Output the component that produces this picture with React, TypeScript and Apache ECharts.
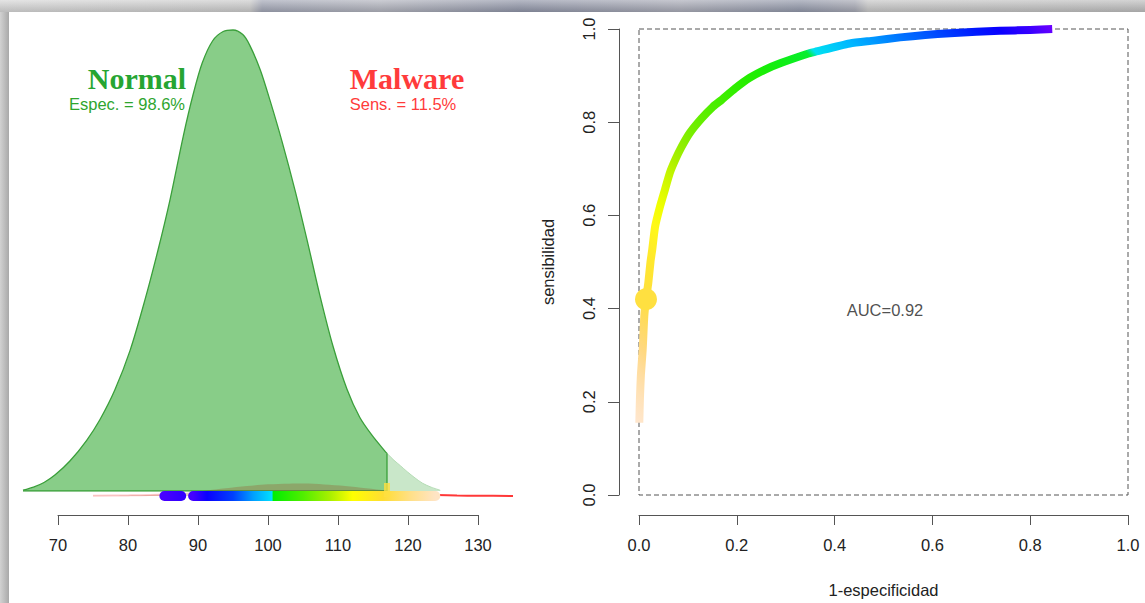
import React, { useEffect, useRef } from "react";
import * as echarts from "echarts";

// ---------- Left panel: score densities ----------
const normalX = [65.0, 66.5, 68.0, 69.6, 71.7, 74.1, 76.0, 78.1, 80.3, 82.4, 84.3, 86.0, 87.9, 89.3, 90.6, 92.1, 93.6, 95.0, 96.4, 97.4, 98.9, 100.3, 102.0, 103.9, 105.7, 107.4, 109.3, 111.3, 113.1, 114.9, 116.7, 117.0];
const normalY = [0.0001, 0.0005, 0.0011, 0.0021, 0.0039, 0.0066, 0.0093, 0.0131, 0.0183, 0.0248, 0.0314, 0.0379, 0.0462, 0.0516, 0.0557, 0.0586, 0.0598, 0.0600, 0.0594, 0.0580, 0.0548, 0.0508, 0.0455, 0.0390, 0.0322, 0.0255, 0.0188, 0.0132, 0.0096, 0.0072, 0.0052, 0.0049];
const normalTailX = [117.0, 118.0, 118.9, 119.9, 121.0, 122.1, 123.3, 124.6];
const normalTailY = [0.0049, 0.0040, 0.0033, 0.0025, 0.0017, 0.0010, 0.0005, 0.0001];

const malwareX = [75, 80, 85, 88, 91, 94, 97, 100, 103, 105, 108, 111, 114, 117, 120, 124, 127, 130, 135];
const malwareY = [0.00002, 0.00008, 0.0002, 0.0004, 0.0007, 0.0010, 0.0013, 0.00152, 0.0016, 0.00162, 0.0015, 0.0013, 0.0010, 0.0007, 0.0004, 0.00012, 0.00006, 0.00003, 0.00001];

const threshold = 117;

// threshold colour bar
const barLowX = [85.2, 87.6];
const barLowColors = ["#4800FF", "#3200FF"];
const barX = [89.3, 91.3, 95.0, 97.9, 100.6, 100.7, 105.0, 108.9, 112.1, 116.4, 120.5, 123.9];
const barColors = ["#4400FF", "#0A00FF", "#0040FF", "#00A0FF", "#00E0FF", "#00EE00", "#50EE00", "#AAF000", "#FFFF00", "#FFDD33", "#FFE08A", "#FFE4C4"];

const leftTicks = [70, 80, 90, 100, 110, 120, 130];

// ---------- Right panel: ROC ----------
const rocFpr = [0.0006, 0.002, 0.004, 0.0075, 0.0108, 0.0143, 0.019, 0.0235, 0.027, 0.033, 0.043, 0.053, 0.063, 0.074, 0.087, 0.104, 0.128, 0.151, 0.169, 0.196, 0.226, 0.258, 0.29, 0.345, 0.36, 0.431, 0.48, 0.534, 0.585, 0.636, 0.69, 0.738, 0.80, 0.845];
const rocTpr = [0.155, 0.21, 0.26, 0.311, 0.383, 0.42, 0.455, 0.50, 0.526, 0.576, 0.619, 0.655, 0.691, 0.719, 0.747, 0.777, 0.808, 0.833, 0.848, 0.872, 0.895, 0.913, 0.927, 0.947, 0.951, 0.969, 0.975, 0.982, 0.987, 0.991, 0.994, 0.996, 0.998, 1.0];
const rocColors = ["#FFE6CC", "#FFE2B8", "#FFDDA0", "#FFD880", "#FFDB58", "#FFE040", "#FFE238", "#FFE72E", "#FFEC28", "#FFF818", "#F0FF00", "#DAFA00", "#C2F500", "#AAF000", "#92EE00", "#7AEE00", "#62EE00", "#4EEE00", "#42EE00", "#30EE00", "#24EE00", "#18EE08", "#10EE14", "#08EE30", "#00E0F0", "#00B8FF", "#0098FF", "#0074FF", "#0058FF", "#0038FF", "#0018FF", "#0A00FF", "#3A00FF", "#6A00FF"];
const cutPoint = [0.0143, 0.42];
const rocTicks = [0, 0.2, 0.4, 0.6, 0.8, 1.0];
const aucPos = [0.503, 0.397];

const normalTitle = "Normal";
const malwareTitle = "Malware";
const specText = "Espec. = 98.6%";
const sensText = "Sens. = 11.5%";
const aucText = "AUC=0.92";
const xName = "1-especificidad";
const yName = "sensibilidad";

const FONT = "Liberation Sans";

function gradientAlong(points: number[][], colors: string[]) {
  const p0 = points[0];
  const p1 = points[points.length - 1];
  const dx = p1[0] - p0[0];
  const dy = p1[1] - p0[1];
  const L2 = dx * dx + dy * dy || 1;
  let last = 0;
  const stops = points.map((p, i) => {
    let t = ((p[0] - p0[0]) * dx + (p[1] - p0[1]) * dy) / L2;
    t = Math.min(1, Math.max(last, t));
    last = t;
    return { offset: t, color: colors[i] };
  });
  return new echarts.graphic.LinearGradient(p0[0], p0[1], p1[0], p1[1], stops, true);
}

const zip = (xs: number[], ys: number[]) => xs.map((x, i) => [x, ys[i]]);

export default function App() {
  const ref = useRef<HTMLDivElement>(null);

  useEffect(() => {
    if (!ref.current) return;
    const chart = echarts.init(ref.current, null, { renderer: "svg" });

    const hiddenX = (gridIndex: number) => ({
      gridIndex, type: "value", min: 64, max: 136, show: false,
    });

    const labelStyle = { fontSize: 16.5, color: "#222", fontFamily: FONT };

    const option: any = {
      animation: false,
      backgroundColor: "transparent",
      textStyle: { fontFamily: FONT },
      grid: [
        { left: 16, top: 20, width: 504, height: 471 },
        { left: 16, top: 20, width: 504, height: 476 },
        { left: 58, top: 480, width: 420, height: 35 },
        {
          left: 639, top: 29, width: 489, height: 466, show: true,
          backgroundColor: "transparent", borderColor: "#555", borderWidth: 1, borderType: [5, 3],
        },
      ],
      xAxis: [
        hiddenX(0),
        hiddenX(1),
        {
          gridIndex: 2, type: "value", min: leftTicks[0], max: leftTicks[leftTicks.length - 1], interval: 10,
          axisLine: { show: true, lineStyle: { color: "#555", width: 1 } },
          axisTick: { show: true, length: 10, lineStyle: { color: "#555" } },
          axisLabel: { show: true, margin: 21, showMinLabel: true, showMaxLabel: true, ...labelStyle },
          splitLine: { show: false },
        },
        {
          gridIndex: 3, type: "value", min: rocTicks[0], max: rocTicks[rocTicks.length - 1], interval: 0.2,
          offset: 20,
          axisLine: { show: true, onZero: false, lineStyle: { color: "#555", width: 1 } },
          axisTick: { show: true, length: 10, lineStyle: { color: "#555" } },
          axisLabel: { show: true, margin: 21, showMinLabel: true, showMaxLabel: true, formatter: (v: number) => v.toFixed(1), ...labelStyle },
          splitLine: { show: false },
          name: xName, nameLocation: "middle", nameGap: 66,
          nameTextStyle: { ...labelStyle },
        },
      ],
      yAxis: [
        { gridIndex: 0, type: "value", min: 0, max: 0.0613, show: false },
        { gridIndex: 1, type: "value", min: 0, max: 0.062, show: false },
        { gridIndex: 2, type: "value", min: 0, max: 1, show: false },
        {
          gridIndex: 3, type: "value", min: rocTicks[0], max: rocTicks[rocTicks.length - 1], interval: 0.2,
          offset: 20,
          axisLine: { show: true, onZero: false, lineStyle: { color: "#555", width: 1 } },
          axisTick: { show: true, length: 11, lineStyle: { color: "#555" } },
          axisLabel: { show: true, rotate: 90, margin: 22, showMinLabel: true, showMaxLabel: true, formatter: (v: number) => v.toFixed(1), ...labelStyle },
          splitLine: { show: false },
          name: yName, nameLocation: "middle", nameGap: 63,
          nameTextStyle: { ...labelStyle },
        },
      ],
      series: [
        {
          id: "normalDark", type: "line", xAxisIndex: 0, yAxisIndex: 0, z: 2,
          data: zip(normalX, normalY), symbol: "none", smooth: 0.3, silent: true,
          lineStyle: { color: "#3A9F3A", width: 1.3 },
          areaStyle: { color: "#88CD88", opacity: 1 },
        },
        {
          id: "normalLight", type: "line", xAxisIndex: 0, yAxisIndex: 0, z: 2,
          data: zip(normalTailX, normalTailY), symbol: "none", smooth: 0.3, silent: true,
          lineStyle: { color: "#B5DCB5", width: 1 },
          areaStyle: { color: "#C9E7C9", opacity: 1 },
        },
        {
          id: "normalCut", type: "line", xAxisIndex: 0, yAxisIndex: 0, z: 2,
          data: [[threshold, 0], [threshold, normalY[normalY.length - 1]]], symbol: "none", silent: true,
          lineStyle: { color: "#3A9F3A", width: 1.3 },
        },
        {
          id: "normalBase", type: "line", xAxisIndex: 0, yAxisIndex: 0, z: 2,
          data: [[normalX[0], 0], [threshold, 0]], symbol: "none", silent: true,
          lineStyle: { color: "#3A9F3A", width: 1.3 },
        },
        {
          id: "malwareArea", type: "line", xAxisIndex: 1, yAxisIndex: 1, z: 3,
          data: zip(malwareX, malwareY), symbol: "none", smooth: 0.3, silent: true,
          lineStyle: { width: 0, opacity: 0 },
          areaStyle: { color: "rgba(150,70,30,0.4)" },
        },
        {
          id: "malwareLow", type: "line", xAxisIndex: 1, yAxisIndex: 1, z: 3,
          data: zip(malwareX, malwareY).filter((p) => p[0] <= 88), symbol: "none", smooth: 0.3, silent: true,
          lineStyle: { color: "rgba(255,90,90,0.3)", width: 2 },
        },
        {
          id: "malwareHigh", type: "line", xAxisIndex: 1, yAxisIndex: 1, z: 3,
          data: zip(malwareX, malwareY).filter((p) => p[0] >= 124), symbol: "none", smooth: 0.3, silent: true,
          lineStyle: { color: "#FF3838", width: 2 },
        },
        {
          id: "barLow", type: "line", xAxisIndex: 1, yAxisIndex: 1, z: 4,
          data: barLowX.map((x) => [x, 0]), symbol: "none", silent: true,
          lineStyle: { color: barLowColors[0], width: 10, cap: "round" },
        },
        {
          id: "barHigh", type: "line", xAxisIndex: 1, yAxisIndex: 1, z: 4,
          data: barX.map((x) => [x, 0]), symbol: "none", silent: true,
          lineStyle: { color: barColors[0], width: 10, cap: "round" },
        },
        {
          id: "cutMark", type: "scatter", xAxisIndex: 1, yAxisIndex: 1, z: 5,
          data: [[threshold, 0]], symbol: "rect", symbolSize: [6, 14], symbolOffset: [0, -6], silent: true,
          itemStyle: { color: "#FFE040" },
        },
        {
          id: "roc", type: "line", xAxisIndex: 3, yAxisIndex: 3, z: 4,
          data: zip(rocFpr, rocTpr), symbol: "none", smooth: 0.2, clip: false, silent: true,
          lineStyle: { color: rocColors[0], width: 8, join: "round" },
        },
        {
          id: "cutPoint", type: "scatter", xAxisIndex: 3, yAxisIndex: 3, z: 5,
          data: [cutPoint], symbolSize: 22, clip: false, silent: true,
          itemStyle: { color: "#FFE040", opacity: 1 },
        },
        {
          id: "auc", type: "scatter", xAxisIndex: 3, yAxisIndex: 3, z: 5,
          data: [aucPos], symbolSize: 0, silent: true,
          label: { show: true, position: "inside", formatter: aucText, ...labelStyle },
        },
      ],
      graphic: [
        {
          type: "text", x: 137, y: 78, silent: true,
          style: { text: normalTitle, fill: "#26A532", font: "bold 30px 'Liberation Serif'", align: "center", verticalAlign: "middle", textAlign: "center", textVerticalAlign: "middle" },
        },
        {
          type: "text", x: 407, y: 78, silent: true,
          style: { text: malwareTitle, fill: "#FF3B3B", font: "bold 30px 'Liberation Serif'", align: "center", verticalAlign: "middle", textAlign: "center", textVerticalAlign: "middle" },
        },
        {
          type: "text", x: 127, y: 104, silent: true,
          style: { text: specText, fill: "#2EA52E", font: "16.5px 'Liberation Sans'", align: "center", verticalAlign: "middle", textAlign: "center", textVerticalAlign: "middle" },
        },
        {
          type: "text", x: 403, y: 104, silent: true,
          style: { text: sensText, fill: "#FF3B3B", font: "16.5px 'Liberation Sans'", align: "center", verticalAlign: "middle", textAlign: "center", textVerticalAlign: "middle" },
        },
      ],
    };

    chart.setOption(option);

    const rocPts = rocFpr.map((x, i) => chart.convertToPixel({ gridIndex: 3 } as any, [x, rocTpr[i]]) as number[]);
    const barPts = barX.map((x) => chart.convertToPixel({ gridIndex: 1 } as any, [x, 0]) as number[]);
    const barLowPts = barLowX.map((x) => chart.convertToPixel({ gridIndex: 1 } as any, [x, 0]) as number[]);

    chart.setOption({
      series: [
        { id: "roc", lineStyle: { color: gradientAlong(rocPts, rocColors) } },
        { id: "barHigh", lineStyle: { color: gradientAlong(barPts, barColors) } },
        { id: "barLow", lineStyle: { color: gradientAlong(barLowPts, barLowColors) } },
      ],
    });

    return () => chart.dispose();
  }, []);

  return (
    <div style={{ position: "fixed", left: 0, top: 0, width: 1145, height: 603, overflow: "hidden", background: "#c4c4c4" }}>
      <div
        style={{
          position: "absolute", left: 0, top: 0, width: 1145, height: 12,
          background:
            "linear-gradient(to bottom, rgba(255,255,255,0.35), rgba(0,0,0,0.12)), linear-gradient(to right, #d6d6d6 0px, #cacaca 250px, #a0a4b4 262px, #b0b2bc 380px, #8e93a6 520px, #a8aab6 680px, #9096a8 800px, #a4a6b2 855px, #c6c6c6 868px, #bcbcbc 1145px)",
        }}
      />
      <div
        style={{
          position: "absolute", left: 0, top: 12, width: 9, height: 591,
          background: "linear-gradient(to right, #d2d2d2, #a9a9a9)",
        }}
      />
      <div style={{ position: "absolute", left: 9, top: 12, right: 0, bottom: 0, background: "#ffffff" }} />
      <div ref={ref} style={{ position: "absolute", left: 0, top: 0, width: 1145, height: 603 }} />
    </div>
  );
}
